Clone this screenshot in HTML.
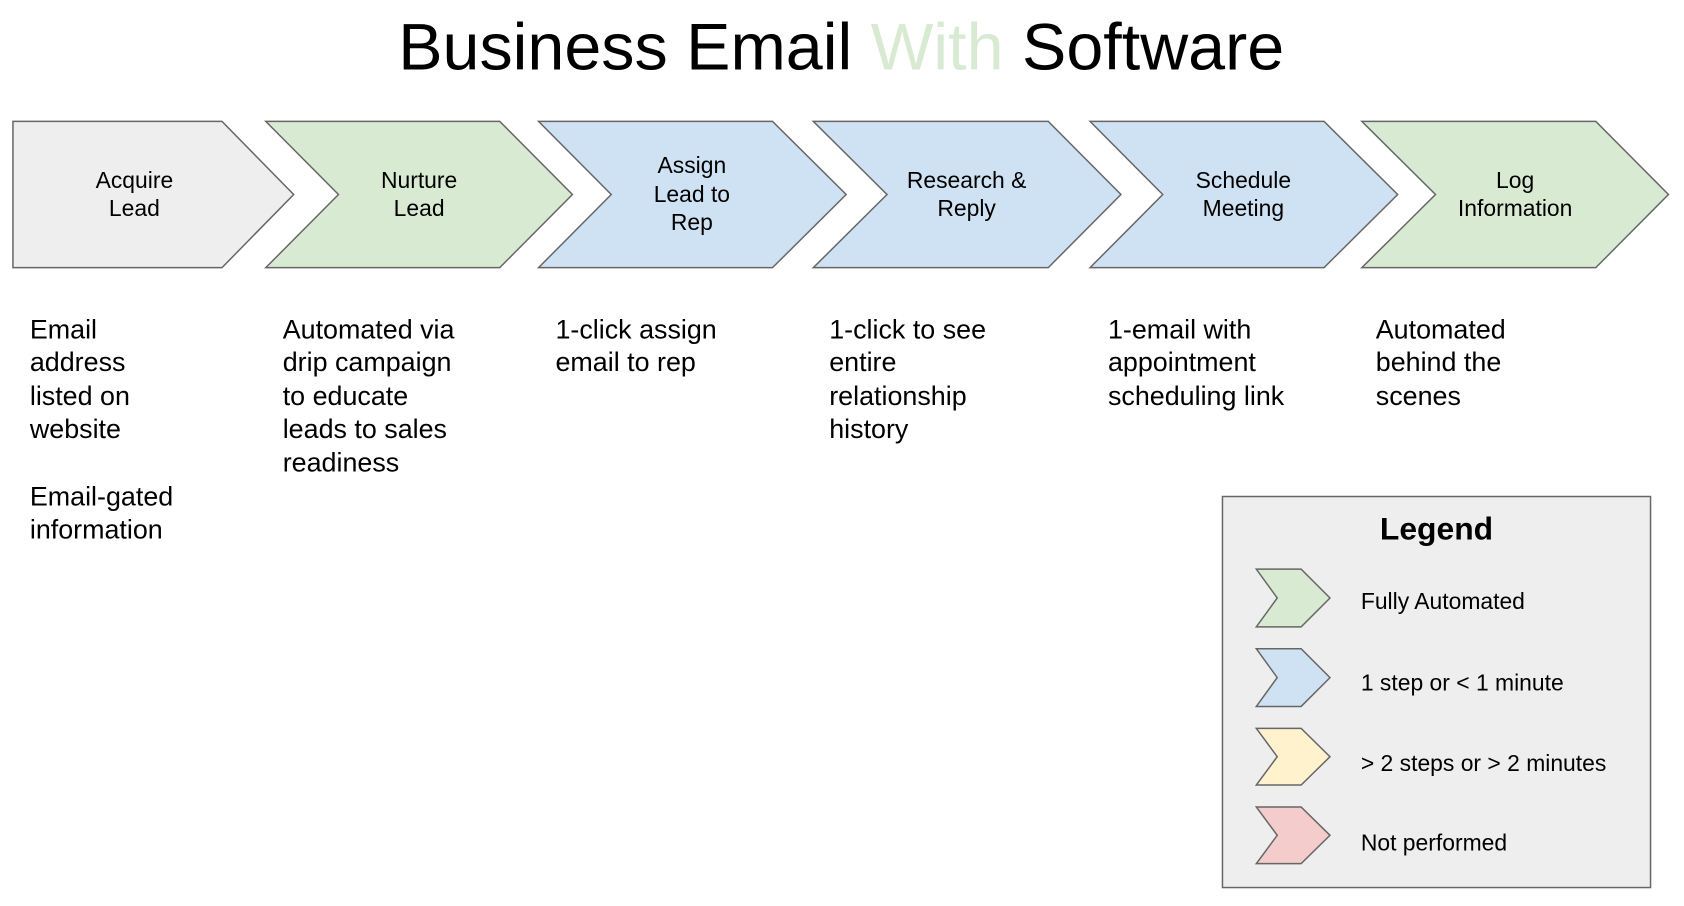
<!DOCTYPE html>
<html><head><meta charset="utf-8"><style>
html,body{margin:0;padding:0;background:#fff}
svg{display:block}
text{font-family:"Liberation Sans",Arial,sans-serif;fill:#000}
</style></head><body>
<svg width="1684" height="906" viewBox="0 0 1684 906" xmlns="http://www.w3.org/2000/svg">
<g transform="scale(0.9955,0.995)">
<text x="845" y="70" font-size="66" text-anchor="middle" textLength="890" lengthAdjust="spacingAndGlyphs">Business Email <tspan fill="#d9ead3">With</tspan> Software</text>
<g stroke="#666" stroke-width="1.5">
<polygon points="13,122 223,122 295,195.5 223,269 13,269" fill="#eeeeee"/>
<polygon points="267,122 502,122 575,195.5 502,269 267,269 340,195.5" fill="#d9ead3"/>
<polygon points="541,122 776,122 850,195.5 776,269 541,269 614,195.5" fill="#cfe2f3"/>
<polygon points="817,122 1053,122 1126,195.5 1053,269 817,269 891,195.5" fill="#cfe2f3"/>
<polygon points="1095,122 1330,122 1404,195.5 1330,269 1095,269 1168,195.5" fill="#cfe2f3"/>
<polygon points="1368,122 1603,122 1676,195.5 1603,269 1368,269 1442,195.5" fill="#d9ead3"/>
</g>
<g font-size="23" text-anchor="middle">
<text x="135" y="189">Acquire</text><text x="135" y="217">Lead</text>
<text x="421" y="189">Nurture</text><text x="421" y="217">Lead</text>
<text x="695" y="174">Assign</text><text x="695" y="203">Lead to</text><text x="695" y="231">Rep</text>
<text x="971" y="189">Research &amp;</text><text x="971" y="217">Reply</text>
<text x="1249" y="189">Schedule</text><text x="1249" y="217">Meeting</text>
<text x="1522" y="189">Log</text><text x="1522" y="217">Information</text>
</g>
<g font-size="27">
<text x="30" y="340">Email</text><text x="30" y="373">address</text><text x="30" y="407">listed on</text><text x="30" y="440">website</text>
<text x="30" y="508">Email-gated</text><text x="30" y="541">information</text>
<text x="284" y="340">Automated via</text><text x="284" y="373">drip campaign</text><text x="284" y="407">to educate</text><text x="284" y="440">leads to sales</text><text x="284" y="474">readiness</text>
<text x="558" y="340">1-click assign</text><text x="558" y="373">email to rep</text>
<text x="833" y="340">1-click to see</text><text x="833" y="373">entire</text><text x="833" y="407">relationship</text><text x="833" y="440">history</text>
<text x="1113" y="340">1-email with</text><text x="1113" y="373">appointment</text><text x="1113" y="407">scheduling link</text>
<text x="1382" y="340">Automated</text><text x="1382" y="373">behind the</text><text x="1382" y="407">scenes</text>
</g>
<rect x="1228" y="499" width="430" height="393" fill="#eeeeee" stroke="#666" stroke-width="1.5"/>
<text x="1443" y="542" font-size="32" font-weight="bold" text-anchor="middle">Legend</text>
<g stroke="#666" stroke-width="1.5">
<polygon points="1262,572 1307,572 1336,601 1307,630 1262,630 1283,601" fill="#d9ead3"/>
<polygon points="1262,652 1307,652 1336,681 1307,710 1262,710 1283,681" fill="#cfe2f3"/>
<polygon points="1262,732 1307,732 1336,760.5 1307,789 1262,789 1283,760.5" fill="#fff2cc"/>
<polygon points="1262,811 1307,811 1336,839.5 1307,868 1262,868 1283,839.5" fill="#f4cccc"/>
</g>
<g font-size="23">
<text x="1367" y="612">Fully Automated</text>
<text x="1367" y="694">1 step or &lt; 1 minute</text>
<text x="1367" y="775">&gt; 2 steps or &gt; 2 minutes</text>
<text x="1367" y="855">Not performed</text>
</g>
</g>
</svg>
</body></html>
